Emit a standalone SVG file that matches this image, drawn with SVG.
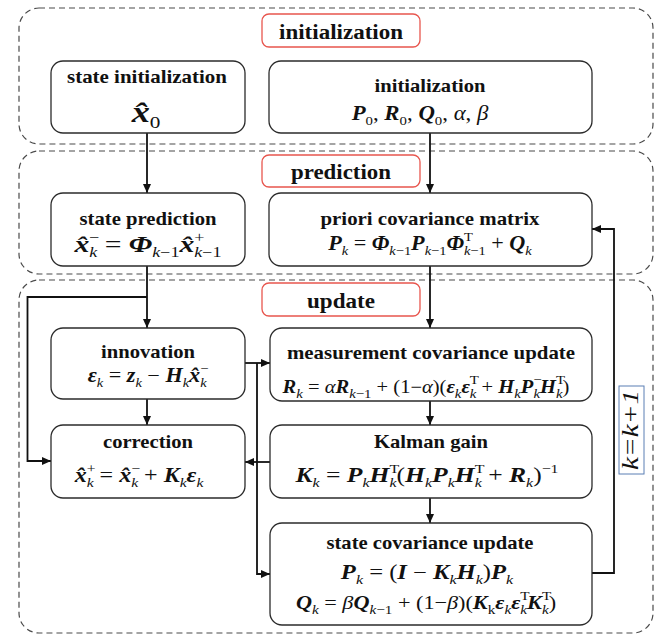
<svg xmlns="http://www.w3.org/2000/svg" width="659" height="637" viewBox="0 0 659 637">
<defs>
<style>
.cont{fill:none;stroke:#4a4a4a;stroke-width:1.2;stroke-dasharray:6 4}
.lab{fill:#fff;stroke:#e8564e;stroke-width:1.3}
.node rect{fill:#fff;stroke:#2b2b2b;stroke-width:1.3}
.t{font-family:"Liberation Serif",serif;font-weight:bold;fill:#111;text-anchor:middle;font-size:19px}
.lt{font-size:20px}
.f{font-family:"Liberation Serif",serif;fill:#111;text-anchor:middle;font-size:20px}
.b{font-weight:bold;font-style:italic}
.i{font-style:italic}
.s{font-size:13px}
.conn path{fill:none;stroke:#111;stroke-width:1.8}
</style>
<marker id="ah" markerUnits="userSpaceOnUse" viewBox="0 0 9 8" markerWidth="9" markerHeight="8" refX="9" refY="4" orient="auto">
<path d="M0,0 L9,4 L0,8 z" fill="#111"/>
</marker>
</defs>
<rect width="659" height="637" fill="#fff"/>

<g id="stage-init">
<rect class="cont" x="19" y="8" width="634" height="136" rx="20"/>
<rect class="lab" x="262" y="14" width="158" height="33" rx="7"/>
<text class="t lt" x="341" y="39" textLength="124" lengthAdjust="spacingAndGlyphs">initialization</text>
</g>
<g id="stage-prediction">
<rect class="cont" x="19" y="151" width="634" height="123" rx="20"/>
<rect class="lab" x="262" y="155" width="158" height="32" rx="7"/>
<text class="t lt" x="341" y="179" textLength="100" lengthAdjust="spacingAndGlyphs">prediction</text>
</g>
<g id="stage-update">
<rect class="cont" x="19" y="280" width="634" height="353" rx="20"/>
<rect class="lab" x="262" y="283" width="158" height="33" rx="7"/>
<text class="t lt" x="341" y="308" textLength="68" lengthAdjust="spacingAndGlyphs">update</text>
</g>

<g class="conn">
<path d="M147,133 V193" marker-end="url(#ah)"/>
<path d="M430,133 V193" marker-end="url(#ah)"/>
<path d="M147,266 V328" marker-end="url(#ah)"/>
<path d="M430,266 V328" marker-end="url(#ah)"/>
<path d="M147,297 H27.5 V461 H51" marker-end="url(#ah)"/>
<path d="M147,399 V425" marker-end="url(#ah)"/>
<path d="M245,363 H270" marker-end="url(#ah)"/>
<path d="M257,363 V574 H270" marker-end="url(#ah)"/>
<path d="M430,401 V425" marker-end="url(#ah)"/>
<path d="M270,462 H245" marker-end="url(#ah)"/>
<path d="M430,498 V523" marker-end="url(#ah)"/>
<path d="M592,573 H614 V229 H592" marker-end="url(#ah)"/>
</g>

<g id="state-initialization" class="node">
<rect x="51" y="61" width="194" height="72" rx="12"/>
<text class="t" x="147" y="83" textLength="160" lengthAdjust="spacingAndGlyphs">state initialization</text>
<text class="f" style="font-size:29px" transform="translate(146,122) scale(1.25,1)"><tspan class="b">x̂</tspan><tspan style="font-size:17px" dy="6">0</tspan></text>
</g>

<g id="initialization" class="node">
<rect x="269" y="61" width="323" height="72" rx="12"/>
<text class="t" x="430" y="92" textLength="111" lengthAdjust="spacingAndGlyphs">initialization</text>
<text class="f" transform="translate(420,120) scale(1.14,1)"><tspan class="b">P</tspan><tspan class="s" dy="5">0</tspan><tspan dy="-5">, </tspan><tspan class="b">R</tspan><tspan class="s" dy="5">0</tspan><tspan dy="-5">, </tspan><tspan class="b">Q</tspan><tspan class="s" dy="5">0</tspan><tspan dy="-5">, </tspan><tspan class="i">α</tspan><tspan>, </tspan><tspan class="i">β</tspan></text>
</g>

<g id="state-prediction" class="node">
<rect x="51" y="193" width="194" height="73" rx="12"/>
<text class="t" x="148" y="225" textLength="137" lengthAdjust="spacingAndGlyphs">state prediction</text>
<text class="f" style="font-size:23px" transform="translate(148,252) scale(1.29,1)"><tspan class="b">x̂</tspan><tspan class="s" style="font-size:14px" dy="-10">−</tspan><tspan class="s i" style="font-size:14px" dx="-7.9" dy="15">k</tspan><tspan dy="-5"> = </tspan><tspan class="b">Φ</tspan><tspan class="s" style="font-size:14px" dy="5"><tspan class="i">k</tspan>−1</tspan><tspan class="b" dy="-5">x̂</tspan><tspan class="s" style="font-size:14px" dy="-10">+</tspan><tspan class="s" style="font-size:14px" dx="-7.9" dy="15"><tspan class="i">k</tspan>−1</tspan></text>
</g>

<g id="priori-covariance" class="node">
<rect x="269" y="193" width="323" height="73" rx="12"/>
<text class="t" x="430" y="225" textLength="219" lengthAdjust="spacingAndGlyphs">priori covariance matrix</text>
<text class="f" transform="translate(430,250) scale(1.11,1)"><tspan class="b">P</tspan><tspan class="s i" dy="5">k</tspan><tspan dy="-5"> = </tspan><tspan class="b">Φ</tspan><tspan class="s" dy="5"><tspan class="i">k</tspan>−1</tspan><tspan class="b" dy="-5">P</tspan><tspan class="s" dy="5"><tspan class="i">k</tspan>−1</tspan><tspan class="b" dy="-5">Φ</tspan><tspan class="s" dy="-9">T</tspan><tspan class="s" dx="-7.9" dy="14"><tspan class="i">k</tspan>−1</tspan><tspan dy="-5"> + </tspan><tspan class="b">Q</tspan><tspan class="s i" dy="5">k</tspan></text>
</g>

<g id="innovation" class="node">
<rect x="51" y="328" width="194" height="71" rx="12"/>
<text class="t" x="148" y="358" textLength="94" lengthAdjust="spacingAndGlyphs">innovation</text>
<text class="f" transform="translate(148,382) scale(1.11,1)"><tspan class="b">ε</tspan><tspan class="s i" dy="5">k</tspan><tspan dy="-5"> = </tspan><tspan class="b">z</tspan><tspan class="s i" dy="5">k</tspan><tspan dy="-5"> − </tspan><tspan class="b">H</tspan><tspan class="s i" dy="5">k</tspan><tspan class="b" dy="-5">x̂</tspan><tspan class="s" dy="-9">−</tspan><tspan class="s i" dx="-7.3" dy="14">k</tspan></text>
</g>

<g id="measurement-covariance-update" class="node">
<rect x="270" y="328" width="322" height="73" rx="12"/>
<text class="t" x="431" y="359" textLength="288" lengthAdjust="spacingAndGlyphs">measurement covariance update</text>
<text class="f" style="font-size:18px" transform="translate(426,393) scale(1.14,1)"><tspan class="b">R</tspan><tspan class="s i" dy="5">k</tspan><tspan dy="-5"> = </tspan><tspan class="i">α</tspan><tspan class="b">R</tspan><tspan class="s" dy="5"><tspan class="i">k</tspan>−1</tspan><tspan dy="-5"> + (1−</tspan><tspan class="i">α</tspan><tspan>)(</tspan><tspan class="b">ε</tspan><tspan class="s i" dy="5">k</tspan><tspan class="b" dy="-5">ε</tspan><tspan class="s" dy="-9">T</tspan><tspan class="s i" dx="-7.9" dy="14">k</tspan><tspan dy="-5"> + </tspan><tspan class="b">H</tspan><tspan class="s i" dy="5">k</tspan><tspan class="b" dy="-5">P</tspan><tspan class="s" dy="-9">−</tspan><tspan class="s i" dx="-7.3" dy="14">k</tspan><tspan class="b" dy="-5">H</tspan><tspan class="s" dy="-9">T</tspan><tspan class="s i" dx="-7.9" dy="14">k</tspan><tspan dy="-5">)</tspan></text>
</g>

<g id="correction" class="node">
<rect x="51" y="425" width="194" height="73" rx="12"/>
<text class="t" x="148" y="448" textLength="90" lengthAdjust="spacingAndGlyphs">correction</text>
<text class="f" transform="translate(139,482) scale(1.2,1)"><tspan class="b">x̂</tspan><tspan class="s" dy="-9">+</tspan><tspan class="s i" dx="-7.3" dy="14">k</tspan><tspan dy="-5"> = </tspan><tspan class="b">x̂</tspan><tspan class="s" dy="-9">−</tspan><tspan class="s i" dx="-7.3" dy="14">k</tspan><tspan dy="-5"> + </tspan><tspan class="b">K</tspan><tspan class="s i" dy="5">k</tspan><tspan class="b" dy="-5">ε</tspan><tspan class="s i" dy="5">k</tspan></text>
</g>

<g id="kalman-gain" class="node">
<rect x="270" y="425" width="322" height="73" rx="12"/>
<text class="t" x="431" y="448" textLength="114" lengthAdjust="spacingAndGlyphs">Kalman gain</text>
<text class="f" style="font-size:21px" transform="translate(427,482) scale(1.22,1)"><tspan class="b">K</tspan><tspan class="s i" dy="5">k</tspan><tspan dy="-5"> = </tspan><tspan class="b">P</tspan><tspan class="s i" dy="5">k</tspan><tspan class="b" dy="-5">H</tspan><tspan class="s" dy="-9">T</tspan><tspan class="s i" dx="-7.9" dy="14">k</tspan><tspan dy="-5">(</tspan><tspan class="b">H</tspan><tspan class="s i" dy="5">k</tspan><tspan class="b" dy="-5">P</tspan><tspan class="s i" dy="5">k</tspan><tspan class="b" dy="-5">H</tspan><tspan class="s" dy="-9">T</tspan><tspan class="s i" dx="-7.9" dy="14">k</tspan><tspan dy="-5"> + </tspan><tspan class="b">R</tspan><tspan class="s i" dy="5">k</tspan><tspan dy="-5">)</tspan><tspan class="s" dy="-9">−1</tspan></text>
</g>

<g id="state-covariance-update" class="node">
<rect x="270" y="523" width="322" height="102" rx="12"/>
<text class="t" x="430" y="549" textLength="207" lengthAdjust="spacingAndGlyphs">state covariance update</text>
<text class="f" transform="translate(427,579) scale(1.23,1)"><tspan class="b">P</tspan><tspan class="s i" dy="5">k</tspan><tspan dy="-5"> = (</tspan><tspan class="b">I</tspan><tspan> − </tspan><tspan class="b">K</tspan><tspan class="s i" dy="5">k</tspan><tspan class="b" dy="-5">H</tspan><tspan class="s i" dy="5">k</tspan><tspan dy="-5">)</tspan><tspan class="b">P</tspan><tspan class="s i" dy="5">k</tspan></text>
<text class="f" style="font-size:19px" transform="translate(426,609) scale(1.17,1)"><tspan class="b">Q</tspan><tspan class="s i" dy="5">k</tspan><tspan dy="-5"> = </tspan><tspan class="i">β</tspan><tspan class="b">Q</tspan><tspan class="s" dy="5"><tspan class="i">k</tspan>−1</tspan><tspan dy="-5"> + (1−</tspan><tspan class="i">β</tspan><tspan>)(</tspan><tspan class="b">K</tspan><tspan class="s" dy="5">k</tspan><tspan class="b" dy="-5">ε</tspan><tspan class="s i" dy="5">k</tspan><tspan class="b" dy="-5">ε</tspan><tspan class="s" dy="-9">T</tspan><tspan class="s i" dx="-7.9" dy="14">k</tspan><tspan class="b" dy="-5">K</tspan><tspan class="s" dy="-9">T</tspan><tspan class="s i" dx="-7.9" dy="14">k</tspan><tspan dy="-5">)</tspan></text>
</g>

<g id="iteration-label">
<rect x="619" y="386" width="25" height="88" fill="#fff" stroke="#5b7fb4" stroke-width="1"/>
<text transform="translate(638,430) rotate(-90)" text-anchor="middle" font-family="Liberation Serif, serif" font-style="italic" font-size="23" fill="#111" textLength="80" lengthAdjust="spacingAndGlyphs">k=k+1</text>
</g>
</svg>
